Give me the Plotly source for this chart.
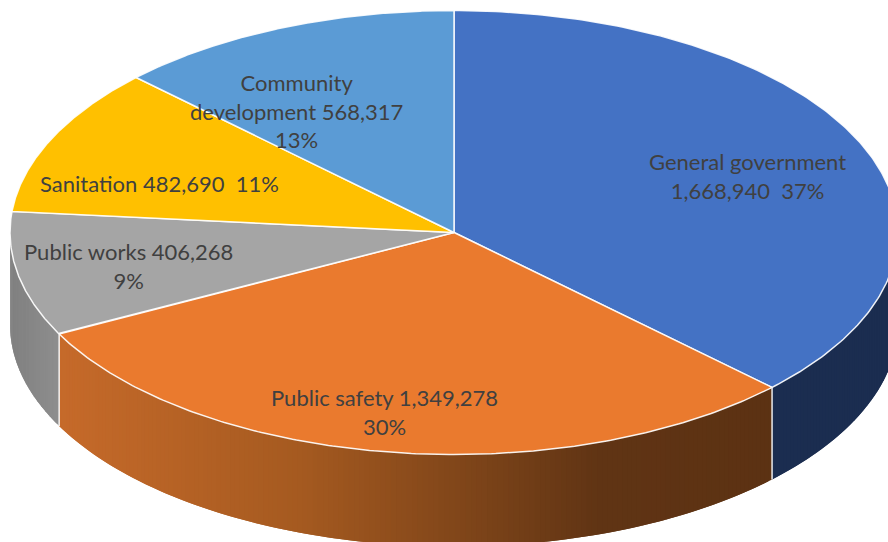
import numpy as np
import plotly.graph_objects as go

# Budget by function, clockwise from twelve o'clock
categories = ["General government", "Public safety", "Public works", "Sanitation", "Community development"]
values = [1668940, 1349278, 406268, 482690, 568317]
top_colors = ["#4472C4", "#EA7A2E", "#A5A5A5", "#FFC000", "#5B9BD5"]
# Wall shade stops: (screen x, colour) per slice
wall_shades = {
    "General government": [(772, (27, 45, 80)), (898, (27, 45, 80))],
    "Public safety": [(59, (198, 106, 42)), (300, (165, 90, 32)), (600, (96, 52, 20)), (772, (92, 50, 19))],
    "Public works": [(10, (128, 128, 128)), (59, (142, 142, 142))],
}
label_lines = {
    "General government": ["General government", "{v}\u00a0\u00a0{p}%"],
    "Public safety": ["Public safety {v}", "{p}%"],
    "Public works": ["Public works {v}", "{p}%"],
    "Sanitation": ["Sanitation {v}\u00a0\u00a0{p}%"],
    "Community development": ["Community", "development {v}", "{p}%"],
}
label_centres = {
    "General government": (747.5, 175.5),
    "Public safety": (384, 412),
    "Public works": (128, 266),
    "Sanitation": (159, 183.5),
    "Community development": (296, 111),
}

CX, CY, RX, RY, DEPTH = 454.0, 232.5, 444.0, 222.0, 92.0
RIM = "rgba(255,255,255,0.9)"

total = sum(values)
edges = np.concatenate([[0], np.cumsum(values)]) / total * 2 * np.pi


def rim(theta, drop=0.0):
    return CX + RX * np.sin(theta), CY - RY * np.cos(theta) + drop


def shade_at(stops, x):
    xs = [s[0] for s in stops]
    rgb = [np.interp(x, xs, [s[1][i] for s in stops]) for i in range(3)]
    return "rgb({:.0f},{:.0f},{:.0f})".format(*rgb)


fig = go.Figure()

# Outer wall: each strip runs to the far end of its slice and the next one paints
# over it, so no background shows through between neighbouring strips
for name, a, b in zip(categories, edges[:-1], edges[1:]):
    lo, hi = max(a, np.pi / 2), min(b, 3 * np.pi / 2)
    if name not in wall_shades or lo >= hi:
        continue
    n = max(2, int((hi - lo) / 0.012))
    cuts = np.linspace(lo, hi, n + 1)
    for i, t0 in enumerate(cuts[:-1]):
        t = cuts[i:min(i + 3, n + 1)]
        xt, yt = rim(t)
        xb, yb = rim(t[::-1], DEPTH)
        colour = shade_at(wall_shades[name], float(rim(t0 + (cuts[1] - cuts[0]) / 2)[0]))
        fig.add_trace(go.Scatter(
            x=np.r_[xt, xb, xt[0]], y=np.r_[yt, yb, yt[0]],
            mode="lines", fill="toself", fillcolor=colour,
            line=dict(width=0), hoverinfo="skip", showlegend=False,
        ))

# Bright seams where the slices meet on the wall
for a in edges[1:-1]:
    if np.pi / 2 < a < 3 * np.pi / 2:
        x0, y0 = rim(a)
        _, y1 = rim(a, DEPTH)
        fig.add_trace(go.Scatter(
            x=[x0, x0], y=[y0, y1], mode="lines",
            line=dict(color=RIM, width=1.5), hoverinfo="skip", showlegend=False,
        ))

# Top face of each slice
for name, colour, a, b in zip(categories, top_colors, edges[:-1], edges[1:]):
    t = np.linspace(a, b, 200)
    xa, ya = rim(t)
    fig.add_trace(go.Scatter(
        x=np.r_[CX, xa, CX], y=np.r_[CY, ya, CY],
        mode="lines", fill="toself", fillcolor=colour,
        line=dict(color=RIM, width=1.5), hoverinfo="skip", showlegend=False,
    ))

# Data labels
for name, value in zip(categories, values):
    pct = round(value / total * 100)
    text = "<br>".join(l.format(v=f"{value:,}", p=pct) for l in label_lines[name])
    x, y = label_centres[name]
    fig.add_annotation(
        x=x, y=y, text=text, showarrow=False, align="center",
        xanchor="center", yanchor="middle",
        font=dict(family="Lato, Carlito, sans-serif", size=22, color="#404040"),
    )

fig.update_layout(
    width=888, height=542, margin=dict(l=0, r=0, t=0, b=0),
    paper_bgcolor="white", plot_bgcolor="white", showlegend=False,
    xaxis=dict(range=[0, 888], visible=False, fixedrange=True),
    yaxis=dict(range=[542, 0], visible=False, fixedrange=True),
)
fig.write_html("out.html", config=dict(displayModeBar=False))
